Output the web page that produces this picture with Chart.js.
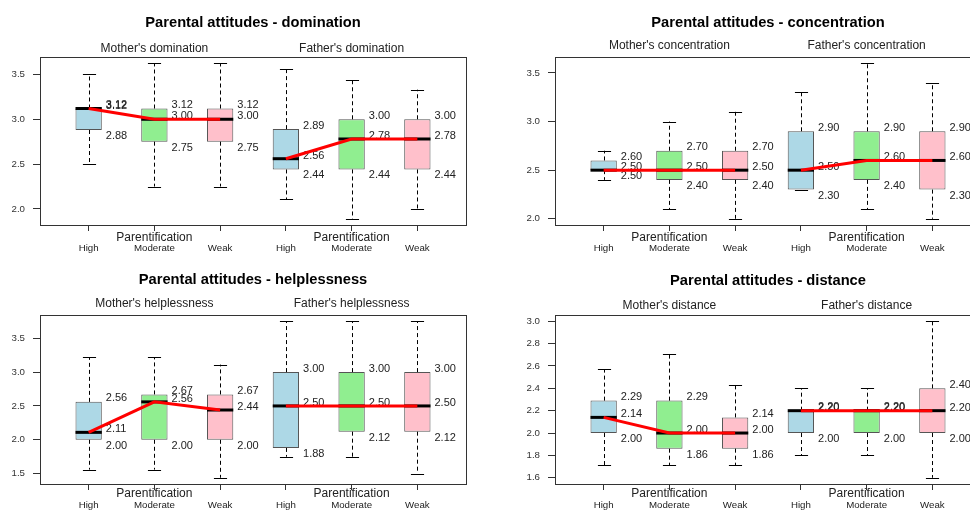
<!DOCTYPE html>
<html>
<head>
<meta charset="utf-8">
<script src="https://cdn.jsdelivr.net/npm/chart.js@4.4.1/dist/chart.umd.min.js"></script>
<style>
html,body{margin:0;padding:0;overflow:hidden;background:#fff;width:970px;height:511px;position:relative;}
canvas{position:absolute;display:block;}
</style>
</head>
<body>
<canvas id="c1"></canvas>
<canvas id="c2"></canvas>
<canvas id="c3"></canvas>
<canvas id="c4"></canvas>
<script>
// ---------- DATA ----------
const categories = ['High', 'Moderate', 'Weak'];
const xLabel = 'Parentification';
const boxColors = ['#ADD8E6', '#90EE90', '#FFC0CB'];

// Domination (Mother: High, Moderate, Weak | Father: High, Moderate, Weak)
const domTitle = 'Parental attitudes - domination';
const domGroups = ["Mother's domination", "Father's domination"];
const domLow  = [2.50, 2.25, 2.25, 2.11, 1.89, 2.00];
const domQ1   = [2.88, 2.75, 2.75, 2.44, 2.44, 2.44];
const domMed  = [3.12, 3.00, 3.00, 2.56, 2.78, 2.78];
const domQ3   = [3.12, 3.12, 3.12, 2.89, 3.00, 3.00];
const domHigh = [3.50, 3.625, 3.625, 3.56, 3.44, 3.33];
const domTicks = [2.0, 2.5, 3.0, 3.5];
const domTickLabels = ['2.0', '2.5', '3.0', '3.5'];

// Concentration
const conTitle = 'Parental attitudes - concentration';
const conGroups = ["Mother's concentration", "Father's concentration"];
const conLow  = [2.40, 2.10, 2.00, 2.30, 2.10, 2.00];
const conQ1   = [2.50, 2.40, 2.40, 2.30, 2.40, 2.30];
const conMed  = [2.50, 2.50, 2.50, 2.50, 2.60, 2.60];
const conQ3   = [2.60, 2.70, 2.70, 2.90, 2.90, 2.90];
const conHigh = [2.70, 3.00, 3.10, 3.30, 3.60, 3.40];
const conTicks = [2.0, 2.5, 3.0, 3.5];
const conTickLabels = ['2.0', '2.5', '3.0', '3.5'];

// Helplessness
const helTitle = 'Parental attitudes - helplessness';
const helGroups = ["Mother's helplessness", "Father's helplessness"];
const helLow  = [1.56, 1.56, 1.44, 1.75, 1.75, 1.50];
const helQ1   = [2.00, 2.00, 2.00, 1.88, 2.12, 2.12];
const helMed  = [2.11, 2.56, 2.44, 2.50, 2.50, 2.50];
const helQ3   = [2.56, 2.67, 2.67, 3.00, 3.00, 3.00];
const helHigh = [3.22, 3.22, 3.11, 3.75, 3.75, 3.75];
const helTicks = [1.5, 2.0, 2.5, 3.0, 3.5];
const helTickLabels = ['1.5', '2.0', '2.5', '3.0', '3.5'];

// Distance
const disTitle = 'Parental attitudes - distance';
const disGroups = ["Mother's distance", "Father's distance"];
const disLow  = [1.71, 1.71, 1.71, 1.80, 1.80, 1.60];
const disQ1   = [2.00, 1.86, 1.86, 2.00, 2.00, 2.00];
const disMed  = [2.14, 2.00, 2.00, 2.20, 2.20, 2.20];
const disQ3   = [2.29, 2.29, 2.14, 2.20, 2.20, 2.40];
const disHigh = [2.57, 2.71, 2.43, 2.40, 2.40, 3.00];
const disTicks = [1.6, 1.8, 2.0, 2.2, 2.4, 2.6, 2.8, 3.0];
const disTickLabels = ['1.6', '1.8', '2.0', '2.2', '2.4', '2.6', '2.8', '3.0'];

// ---------- LAYOUT ----------
const FONT = '"Liberation Sans", Arial, Helvetica, sans-serif';
const panels = [
  { id: 'c1', left: 0,   top: 0,   w: 485, h: 255, padTop: 57, padRight: 19, yw: 40, xh: 30, xpad: 12, titleOff: 34.3, subOff: 8,  xlabOff: 13,
    title: domTitle, groups: domGroups, low: domLow, q1: domQ1, med: domMed, q3: domQ3, high: domHigh, ticks: domTicks, tickLabels: domTickLabels },
  { id: 'c2', left: 485, top: 0,   w: 510, h: 255, padTop: 57, padRight: 14, yw: 70, xh: 30, xpad: 12, titleOff: 34.3, subOff: 11, xlabOff: 13,
    title: conTitle, groups: conGroups, low: conLow, q1: conQ1, med: conMed, q3: conQ3, high: conHigh, ticks: conTicks, tickLabels: conTickLabels },
  { id: 'c3', left: 0,   top: 255, w: 485, h: 256, padTop: 60, padRight: 19, yw: 40, xh: 27, xpad: 10, titleOff: 35, subOff: 11, xlabOff: 10,
    title: helTitle, groups: helGroups, low: helLow, q1: helQ1, med: helMed, q3: helQ3, high: helHigh, ticks: helTicks, tickLabels: helTickLabels },
  { id: 'c4', left: 485, top: 255, w: 510, h: 256, padTop: 60, padRight: 14, yw: 70, xh: 27, xpad: 10, titleOff: 34.3, subOff: 9, xlabOff: 10,
    title: disTitle, groups: disGroups, low: disLow, q1: disQ1, med: disMed, q3: disQ3, high: disHigh, ticks: disTicks, tickLabels: disTickLabels }
];

// ---------- PLUGIN: whiskers, medians, labels, frame, titles ----------
const boxParts = {
  id: 'boxParts',
  afterDatasetDraw(chart, args, opts) {
    if (args.index !== 0) return;
    const p = opts.panel;
    const ctx = chart.ctx, ys = chart.scales.y;
    const meta = chart.getDatasetMeta(0);
    ctx.save();
    meta.data.forEach((bar, i) => {
      const x = Math.round(bar.x) + 0.5;
      const hw = bar.width / 2;
      const yLo = ys.getPixelForValue(p.low[i]);
      const yHi = ys.getPixelForValue(p.high[i]);
      const yQ1 = ys.getPixelForValue(p.q1[i]);
      const yQ3 = ys.getPixelForValue(p.q3[i]);
      const yMd = ys.getPixelForValue(p.med[i]);
      // dashed whiskers
      ctx.strokeStyle = '#000';
      ctx.lineWidth = 1;
      ctx.setLineDash([4, 3]);
      ctx.beginPath();
      ctx.moveTo(x, yQ3); ctx.lineTo(x, yHi);
      ctx.moveTo(x, yQ1); ctx.lineTo(x, yLo);
      ctx.stroke();
      ctx.setLineDash([]);
      // staples
      ctx.beginPath();
      const sy1 = Math.round(yHi) + 0.5, sy2 = Math.round(yLo) + 0.5;
      ctx.moveTo(x - hw / 2, sy1); ctx.lineTo(x + hw / 2, sy1);
      ctx.moveTo(x - hw / 2, sy2); ctx.lineTo(x + hw / 2, sy2);
      ctx.stroke();
      // median
      ctx.lineWidth = 3;
      ctx.beginPath();
      ctx.moveTo(bar.x - hw, yMd); ctx.lineTo(bar.x + hw, yMd);
      ctx.stroke();
      // value labels
      ctx.fillStyle = '#222';
      ctx.font = '11px ' + FONT;
      ctx.textAlign = 'left';
      ctx.textBaseline = 'middle';
      const tx = bar.x + hw + 4;
      ctx.fillText(p.q3[i].toFixed(2), tx, yQ3 - 3.5);
      ctx.fillText(p.med[i].toFixed(2), tx, yMd - 3);
      ctx.fillText(p.q1[i].toFixed(2), tx, yQ1 + 6);
    });
    ctx.restore();
  },
  afterDraw(chart, args, opts) {
    const p = opts.panel;
    const ctx = chart.ctx, a = chart.chartArea, xs = chart.scales.x;
    ctx.save();
    // frame
    ctx.strokeStyle = '#333';
    ctx.lineWidth = 1;
    ctx.strokeRect(Math.round(a.left) + 0.5, Math.round(a.top) + 0.5,
                   Math.round(a.right - a.left), Math.round(a.bottom - a.top));
    // title
    ctx.fillStyle = '#000';
    ctx.textAlign = 'center';
    ctx.textBaseline = 'middle';
    ctx.font = 'bold 14.7px ' + FONT;
    ctx.fillText(p.title, (a.left + a.right) / 2, a.top - p.titleOff);
    // group subtitles and x labels
    ctx.fillStyle = '#222';
    ctx.font = '12px ' + FONT;
    [2, 5].forEach((v, g) => {
      const px = xs.getPixelForValue(v);
      ctx.fillText(p.groups[g], px, a.top - p.subOff);
      ctx.fillText(xLabel, px, a.bottom + p.xlabOff);
    });
    ctx.restore();
  }
};

// ---------- BUILD ----------
function build(p) {
  const cv = document.getElementById(p.id);
  cv.width = p.w; cv.height = p.h;
  cv.style.left = p.left + 'px'; cv.style.top = p.top + 'px';
  cv.style.width = p.w + 'px'; cv.style.height = p.h + 'px';
  const xs = [1, 2, 3, 4, 5, 6];
  const nBox = xs.length;
  const xMin = 0.5 - nBox * 0.04, xMax = nBox + 0.5 + nBox * 0.04;
  const lo = Math.min(...p.low), hi = Math.max(...p.high), pad = (hi - lo) * 0.04;
  const lineDs = (idx) => ({
    type: 'line',
    data: idx.map(i => ({ x: xs[i], y: p.med[i] })),
    borderColor: '#FF0000', borderWidth: 3, pointRadius: 0, fill: false, tension: 0, order: 1
  });
  new Chart(cv, {
    type: 'bar',
    data: {
      datasets: [
        {
          type: 'bar',
          data: xs.map((x, i) => ({ x: x, y: [p.q1[i], p.q3[i]] })),
          backgroundColor: xs.map((x, i) => boxColors[i % 3]),
          borderColor: '#555', borderWidth: 1, borderSkipped: false,
          barPercentage: 0.4, categoryPercentage: 1.0, order: 2
        },
        lineDs([0, 1, 2]),
        lineDs([3, 4, 5])
      ]
    },
    options: {
      responsive: false, animation: false, devicePixelRatio: 1,
      layout: { padding: { top: p.padTop, right: p.padRight, left: 0, bottom: 0 } },
      plugins: { legend: { display: false }, tooltip: { enabled: false }, boxParts: { panel: p } },
      scales: {
        x: {
          type: 'linear', min: xMin, max: xMax, offset: false,
          grid: { offset: false, drawOnChartArea: false, drawTicks: true, tickLength: 6, color: '#333' },
          border: { display: false },
          afterBuildTicks: s => { s.ticks = xs.map(v => ({ value: v })); },
          afterFit: s => { s.height = p.xh; },
          ticks: {
            autoSkip: false, maxRotation: 0, minRotation: 0, padding: p.xpad, color: '#222',
            font: { family: FONT, size: 9.7 },
            callback: v => categories[(Math.round(v) - 1) % 3]
          }
        },
        y: {
          type: 'linear', min: lo - pad, max: hi + pad,
          grid: { offset: false, drawOnChartArea: false, drawTicks: true, tickLength: 7, color: '#333' },
          border: { display: false },
          afterBuildTicks: s => { s.ticks = p.ticks.map(v => ({ value: v })); },
          afterFit: s => { s.width = p.yw; },
          ticks: {
            padding: 8, color: '#333', font: { family: FONT, size: 9.7 },
            callback: (v, i) => p.tickLabels[i]
          }
        }
      }
    },
    plugins: [boxParts]
  });
}
panels.forEach(build);
</script>
</body>
</html>
